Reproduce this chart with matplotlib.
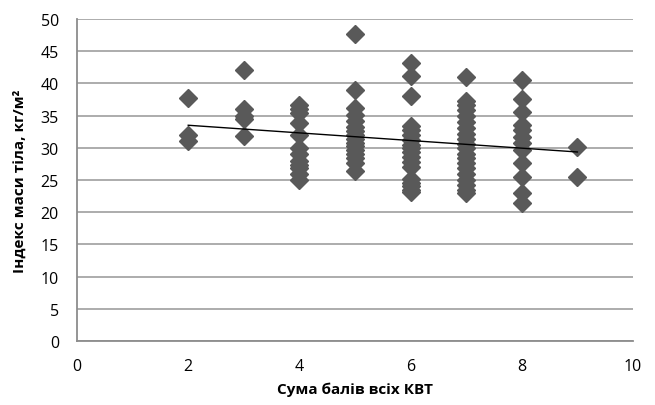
import numpy as np
import matplotlib
matplotlib.use("Agg")
import matplotlib.pyplot as plt

plt.rcParams['font.family'] = ['Open Sans', 'DejaVu Sans']

# scores and BMI values, one list per score
score_2 = [37.7, 32.0, 31.0]
score_3 = [42.1, 36.1, 35.0, 34.4, 31.9]
score_4 = [36.6, 36.0, 35.4, 33.9, 32.0, 30.0, 29.0, 28.0, 27.4, 26.8, 26.0, 25.0]
score_5 = [47.6, 38.9, 36.2, 35.1, 34.2, 33.3, 32.6, 32.0, 31.4, 30.8, 30.3,
           29.7, 29.1, 28.4, 27.6, 26.4]
score_6 = [43.1, 41.2, 38.0, 33.4, 32.8, 32.0, 31.2, 30.5, 29.9, 29.3, 28.6,
           27.8, 27.0, 25.2, 24.6, 24.0, 23.5, 23.1]
score_7 = [41.0, 37.3, 36.6, 35.8, 34.9, 34.0, 33.1, 32.2, 31.3, 30.6, 29.9,
           29.1, 28.4, 27.6, 26.8, 25.9, 25.0, 24.2, 23.5, 23.0]
score_8 = [40.5, 37.6, 35.6, 33.6, 32.7, 31.7, 30.7, 29.6, 27.6, 25.4, 23.0, 21.4]
score_9 = [30.2, 25.4]

scores = [2, 3, 4, 5, 6, 7, 8, 9]
bmi = [score_2, score_3, score_4, score_5, score_6, score_7, score_8, score_9]

# linear trend as drawn in the picture
trend_slope = -0.593
trend_intercept = 34.69

x_ticks = [0, 2, 4, 6, 8, 10]
y_ticks = list(range(0, 51, 5))

fig = plt.figure(figsize=(6.55, 4.06), dpi=100)
ax = fig.add_axes([0.1176, 0.1576, 0.8488, 0.7931])

xs = np.concatenate([[s] * len(v) for s, v in zip(scores, bmi)])
ys = np.concatenate(bmi)
ax.plot(xs, ys, linestyle='none', marker='D', markersize=8.8,
        color='#595959', zorder=3)

tx = np.array([min(scores), max(scores)])
ax.plot(tx, trend_intercept + trend_slope * tx, color='black', lw=1, zorder=4)

ax.set_xlim(0, 10)
ax.set_ylim(0, 50)
ax.set_xticks(x_ticks)
ax.set_yticks(y_ticks)
ax.yaxis.grid(True, color='#a6a6a6', lw=1.3)
ax.set_axisbelow(True)
ax.tick_params(length=0, labelsize=11.5)
ax.tick_params(axis='x', pad=12)
ax.tick_params(axis='y', pad=13)
for side in ['top', 'right']:
    ax.spines[side].set_visible(False)
for side in ['left', 'bottom']:
    ax.spines[side].set_color('#8c8c8c')
    ax.spines[side].set_linewidth(1.3)

ax.set_xlabel('Сума балів всіх КВТ', fontsize=11, fontweight='bold', labelpad=6)
ax.set_ylabel('Індекс маси тіла, кг/м²', fontsize=11, fontweight='bold', labelpad=10)

fig.savefig('out.png', dpi=100)
